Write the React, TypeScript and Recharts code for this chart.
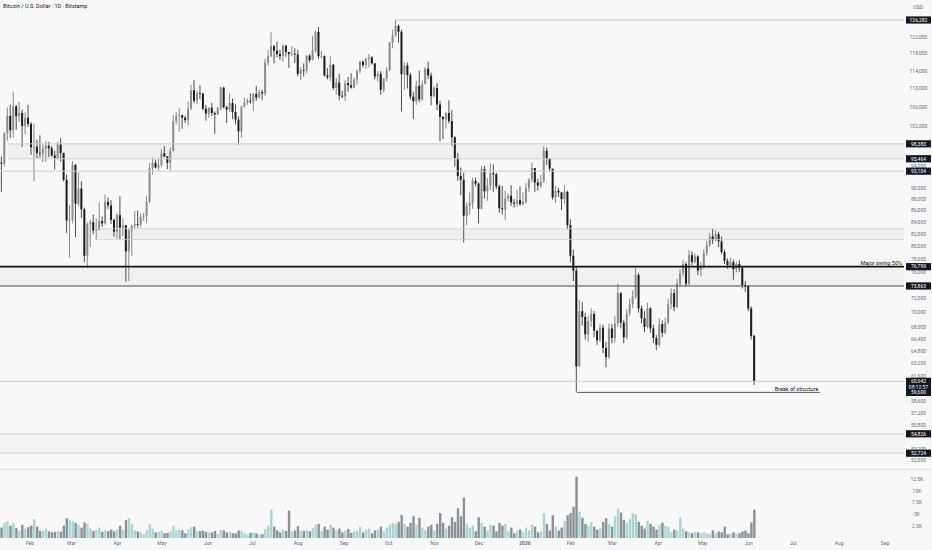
import {
  Bar,
  Cell,
  ComposedChart,
  ReferenceArea,
  ReferenceLine,
  XAxis,
  YAxis,
} from "recharts";

const FONT = "Roboto, 'Liberation Sans', sans-serif";
const W = 932;
const AXIS_W = 28;
const PRICE_H = 466;
const VOL_H = 84;
// x positions are days counted from 1 Feb 2025
const DAY_MIN = -20.25;
const DAY_MAX = 589.8;
const FIRST_DAY = -19; // 13 Jan 2025, one candle per two days
const FIRST_OPEN = 94.7;

// [close, high, low] in k USD, volume in k BTC — one two-day candle per row
const jan25 = [[94.5, 95.9, 89.3, 2.2], [100.5, 100.7, 94.0, 3.2], [104.1, 105.9, 99.0, 3.5], [101.1, 106.4, 99.5, 2.6], [106.1, 109.3, 99.6, 3.3], [104.0, 106.4, 101.2, 2.1], [104.7, 107.0, 102.8, 1.5], [102.0, 105.4, 97.8, 2.8], [103.7, 104.8, 100.3, 2.0], [102.4, 106.4, 101.8, 2.3]];
const feb25 = [[97.7, 102.8, 96.2, 2.6], [97.8, 102.5, 91.2, 4.0], [96.6, 99.2, 95.6, 2.4], [96.5, 100.1, 95.7, 1.5], [97.4, 98.3, 94.8, 1.6], [98.0, 98.9, 94.9, 2.0], [97.5, 98.8, 95.8, 1.4], [96.1, 97.9, 95.9, 1.2], [95.5, 97.0, 93.4, 1.3], [98.3, 98.8, 95.3, 1.5], [96.6, 99.5, 94.9, 1.3], [91.5, 96.6, 91.2, 2.6], [84.3, 92.5, 82.2, 4.2], [84.4, 87.0, 78.2, 3.8]];
const mar25 = [[94.3, 95.0, 83.8, 3.6], [87.2, 94.4, 81.5, 3.2], [89.9, 92.8, 86.8, 2.8], [86.2, 91.2, 84.7, 2.2], [78.5, 86.5, 77.5, 3.3], [83.7, 84.0, 76.6, 3.0], [84.0, 84.4, 79.9, 2.0], [82.6, 85.3, 82.0, 1.5], [82.7, 84.7, 81.1, 1.7], [84.2, 87.4, 82.6, 2.2], [83.8, 85.0, 83.2, 1.3], [87.5, 88.8, 83.6, 1.6], [86.9, 88.3, 86.3, 1.5], [84.4, 87.8, 83.7, 1.8], [82.4, 84.6, 81.6, 1.4]];
const apr25 = [[85.2, 85.5, 81.3, 1.8], [83.1, 88.5, 81.2, 2.6], [83.5, 84.7, 81.7, 1.8], [79.2, 83.5, 74.5, 3.8], [82.6, 83.0, 74.6, 4.2], [83.4, 83.6, 78.5, 3.0], [83.7, 85.9, 82.9, 1.6], [83.6, 86.0, 83.1, 1.4], [84.9, 85.5, 83.1, 1.2], [85.1, 85.6, 84.2, 0.8], [87.5, 88.5, 83.9, 1.6], [93.7, 94.7, 87.3, 3.0], [94.7, 95.7, 92.5, 2.0], [93.8, 95.3, 93.6, 1.2], [94.3, 95.5, 93.2, 1.3]];
const may25 = [[96.5, 97.4, 93.9, 1.6], [95.9, 97.9, 95.8, 1.0], [94.7, 96.0, 93.5, 1.1], [97.0, 97.7, 93.4, 1.4], [103.0, 104.3, 96.9, 2.6], [104.1, 104.9, 102.3, 1.6], [104.2, 105.8, 100.8, 1.8], [103.7, 104.4, 101.4, 1.6], [103.2, 104.1, 102.6, 1.0], [105.6, 107.1, 102.1, 1.8], [109.6, 110.8, 105.3, 2.3], [107.3, 111.9, 106.8, 2.4], [109.0, 109.5, 106.6, 1.4], [108.9, 110.7, 107.6, 1.5], [105.6, 108.9, 105.3, 1.6], [104.6, 106.4, 103.1, 1.3]];
const jun25 = [[105.8, 105.9, 103.7, 1.2], [104.7, 106.8, 104.1, 1.2], [104.4, 105.0, 100.4, 1.5], [105.7, 106.0, 104.3, 0.9], [110.2, 110.4, 105.3, 1.7], [105.9, 110.4, 105.7, 1.6], [105.4, 106.2, 102.6, 1.2], [106.8, 108.9, 104.9, 1.3], [104.9, 107.8, 103.4, 1.0], [103.3, 106.5, 102.3, 1.0], [100.9, 104.0, 98.2, 1.6], [106.0, 106.3, 99.6, 1.5], [106.9, 108.0, 105.9, 1.0], [107.3, 107.8, 106.4, 0.7], [107.1, 108.9, 106.7, 1.1]];
const jul25 = [[108.8, 109.0, 105.1, 1.2], [108.0, 110.6, 107.3, 1.0], [109.2, 109.7, 107.8, 0.7], [108.9, 109.7, 107.5, 0.8], [115.9, 116.8, 108.3, 1.9], [117.4, 118.9, 115.2, 2.6], [119.8, 123.2, 117.2, 6.0], [118.7, 120.1, 115.7, 2.4], [117.9, 120.9, 117.1, 1.6], [117.4, 118.9, 116.5, 1.2], [119.9, 120.2, 116.1, 1.8], [118.4, 120.1, 117.3, 1.5], [117.9, 118.4, 114.7, 5.8], [118.0, 119.8, 117.4, 1.4], [117.8, 119.3, 115.8, 1.6]];
const aug25 = [[113.3, 118.9, 112.7, 2.5], [114.2, 114.8, 111.9, 1.6], [114.1, 115.7, 112.7, 1.5], [117.5, 117.6, 113.4, 1.7], [116.5, 117.9, 115.9, 1.4], [118.7, 122.3, 116.4, 2.2], [123.3, 123.6, 118.2, 2.8], [117.4, 124.5, 116.8, 3.0], [117.4, 118.6, 116.9, 1.5], [112.9, 117.6, 112.7, 2.4], [112.5, 114.6, 112.0, 1.8], [115.4, 117.4, 111.7, 2.8], [110.1, 115.6, 109.7, 2.2], [111.3, 112.4, 108.7, 1.6], [108.4, 113.3, 107.4, 2.0], [108.3, 109.5, 107.9, 1.2]];
const sep25 = [[111.2, 111.8, 107.3, 1.6], [110.7, 112.6, 109.3, 1.9], [110.2, 113.4, 110.0, 1.1], [112.0, 112.4, 110.0, 1.4], [113.9, 114.3, 110.9, 1.6], [116.1, 116.3, 113.4, 2.4], [115.3, 116.4, 114.8, 1.2], [116.8, 117.0, 114.4, 1.8], [117.1, 117.9, 114.8, 2.0], [115.7, 117.4, 115.4, 1.0], [112.7, 115.8, 112.0, 1.6], [113.3, 113.9, 111.6, 1.8], [109.7, 113.9, 108.6, 2.4], [112.2, 112.3, 109.1, 1.4], [114.1, 114.8, 111.6, 2.2]];
const oct25 = [[120.6, 120.9, 113.9, 2.8], [122.4, 123.9, 119.3, 3.2], [124.8, 126.282, 122.1, 3.0], [123.3, 125.1, 120.6, 3.4], [113.2, 123.8, 105.0, 4.9], [115.2, 115.9, 109.7, 3.0], [113.0, 115.9, 110.0, 2.4], [108.2, 113.5, 107.6, 3.2], [107.2, 109.3, 103.5, 4.6], [110.6, 111.7, 106.4, 2.8], [107.6, 114.0, 107.0, 4.3], [111.0, 111.8, 107.3, 2.2], [114.5, 114.8, 110.9, 1.6], [112.9, 116.1, 112.1, 2.4], [108.3, 113.6, 106.3, 2.8]];
const nov25 = [[110.1, 110.6, 108.1, 1.6], [106.5, 111.2, 105.3, 3.0], [103.9, 107.3, 98.9, 5.3], [103.4, 104.0, 99.3, 3.2], [104.7, 104.8, 101.4, 2.0], [103.0, 107.4, 102.5, 2.6], [99.7, 105.3, 98.0, 4.4], [95.6, 99.9, 94.0, 3.4], [92.2, 96.6, 91.3, 6.3], [91.5, 93.8, 88.7, 4.6], [85.1, 92.8, 80.6, 8.6], [86.8, 87.4, 83.5, 3.0], [87.3, 89.2, 85.3, 2.2], [91.3, 91.9, 86.3, 2.6], [90.8, 91.9, 90.3, 1.4]];
const dec25 = [[86.3, 91.0, 83.8, 4.4], [93.5, 94.1, 86.2, 3.2], [89.4, 94.1, 88.1, 2.4], [90.4, 91.8, 87.7, 1.6], [92.7, 94.6, 89.6, 2.8], [92.5, 94.4, 89.3, 2.6], [90.3, 92.8, 89.8, 1.4], [86.4, 90.6, 85.6, 3.2], [86.2, 90.4, 85.3, 2.6], [88.1, 89.5, 84.4, 3.0], [88.6, 89.0, 87.6, 1.4], [87.4, 90.5, 86.8, 2.2], [87.2, 88.0, 86.5, 1.0], [87.8, 89.7, 86.7, 1.6], [87.1, 90.3, 86.8, 1.8], [87.5, 89.2, 86.9, 1.2]];
const jan26 = [[90.0, 90.9, 87.2, 2.2], [91.5, 91.8, 89.3, 1.6], [93.7, 94.8, 91.0, 2.8], [91.0, 93.7, 89.3, 2.4], [90.4, 91.7, 89.5, 1.2], [91.2, 92.4, 90.0, 1.4], [97.0, 97.9, 90.9, 5.3], [95.5, 97.6, 94.3, 3.0], [93.6, 95.5, 93.0, 1.6], [88.3, 93.4, 87.9, 4.8], [89.5, 90.4, 87.3, 2.4], [89.2, 90.0, 88.4, 1.6], [88.0, 89.3, 86.1, 2.2], [89.3, 90.5, 87.2, 3.6], [83.5, 89.5, 82.8, 4.8]];
const feb26 = [[78.5, 84.5, 77.5, 5.3], [76.2, 79.5, 74.6, 6.6], [62.8, 76.8, 59.7, 13.0], [70.2, 71.8, 62.8, 5.6], [69.4, 71.5, 68.2, 4.3], [67.0, 70.0, 66.3, 3.0], [68.8, 69.5, 66.0, 2.6], [69.8, 70.6, 68.0, 3.4], [67.5, 70.2, 66.6, 2.4], [66.2, 67.5, 65.6, 1.8], [67.9, 68.4, 65.9, 2.0], [65.2, 68.3, 64.5, 3.4], [64.0, 66.0, 62.7, 4.2], [67.8, 68.5, 63.8, 3.0]];
const mar26 = [[66.5, 68.4, 65.8, 2.4], [68.5, 69.5, 65.9, 4.6], [72.8, 74.2, 68.0, 6.2], [68.6, 73.0, 67.8, 5.4], [66.6, 69.0, 65.8, 3.8], [69.9, 70.5, 66.3, 3.2], [71.2, 72.0, 69.5, 4.0], [72.3, 73.2, 70.6, 5.3], [75.5, 76.6, 72.0, 5.0], [70.6, 75.8, 70.0, 3.4], [69.2, 71.0, 68.5, 2.6], [68.0, 70.2, 67.3, 2.0], [70.6, 71.4, 67.8, 3.6], [67.8, 70.8, 67.2, 3.0], [66.5, 68.3, 65.8, 2.4], [65.6, 66.9, 64.9, 1.8]];
const apr26 = [[68.4, 69.2, 65.3, 2.8], [67.2, 68.9, 66.6, 3.2], [68.6, 69.3, 67.0, 2.6], [71.2, 72.0, 68.4, 2.4], [72.8, 73.5, 70.5, 1.2], [70.8, 73.4, 70.2, 1.8], [74.2, 74.9, 70.6, 1.6], [75.8, 76.4, 73.8, 4.3], [77.2, 77.9, 75.3, 2.0], [74.2, 77.5, 73.8, 1.4], [78.6, 79.4, 74.0, 1.2], [77.5, 79.2, 77.0, 1.0], [78.4, 78.9, 77.3, 1.4], [76.2, 78.6, 75.5, 1.2], [76.9, 77.5, 75.3, 1.0]];
const may26 = [[78.9, 79.5, 76.5, 1.2], [80.2, 80.9, 78.5, 1.0], [81.6, 82.2, 79.9, 0.8], [81.0, 82.9, 80.4, 1.6], [82.0, 82.6, 80.8, 1.0], [80.8, 82.4, 79.9, 1.4], [79.1, 81.6, 78.8, 1.2], [77.7, 79.5, 77.2, 2.4], [77.0, 78.1, 76.5, 0.8], [77.5, 78.2, 76.7, 1.0], [76.4, 77.9, 74.8, 1.2], [77.2, 77.6, 75.9, 0.9], [76.6, 77.8, 76.0, 1.0], [74.0, 76.8, 73.5, 1.4], [73.8, 74.6, 73.0, 1.6]];
const jun26 = [[70.6, 74.0, 70.2, 1.0], [66.8, 70.9, 66.3, 3.3], [60.942, 66.9, 60.5, 6.0]];

const months = [jan25, feb25, mar25, apr25, may25, jun25, jul25, aug25, sep25, oct25, nov25, dec25, jan26, feb26, mar26, apr26, may26, jun26];

const monthTicks = [0, 28, 59, 89, 120, 150, 181, 212, 242, 273, 303, 334, 365, 393, 424, 454, 485, 515, 546, 577];
const monthLabels = ["Feb", "Mar", "Apr", "May", "Jun", "Jul", "Aug", "Sep", "Oct", "Nov", "Dec", "2026", "Feb", "Mar", "Apr", "May", "Jun", "Jul", "Aug", "Sep"];

const priceTicks = [122000, 118000, 114000, 110000, 106000, 102000, 94000, 90000, 88000, 86000, 84000, 82000, 80000, 78000, 76000, 72000, 70000, 68000, 66400, 64800, 63200, 61600, 58600, 57200, 55800, 53200, 52000];
const priceMarks = [126282, 98383, 95464, 93104, 76799, 73863, 60942, 59600, 54826, 52724];
const volTicks = [2500, 5000, 7500, 10000, 12500];
const volLabels = ["2.5K", "5K", "7.5K", "10K", "12.5K"];

type Candle = { d: number; o: number; h: number; l: number; c: number; range: [number, number]; v: number; up: boolean };

const candles: Candle[] = [];
{
  let prev = FIRST_OPEN;
  let d = FIRST_DAY;
  for (const m of months) {
    for (const [c, h, l, v] of m) {
      candles.push({ d, o: prev * 1000, c: c * 1000, h: h * 1000, l: l * 1000, range: [l * 1000, h * 1000], v: v * 1000, up: c >= prev });
      prev = c;
      d += 2;
    }
  }
}

const INK = "#131722";
const LEVEL = "#cfcfcf";
const ZONE = "#000";

function CandleShape(props: any) {
  const { x, y, width, height, payload } = props;
  if (!payload) return null;
  const { o, c, h, l, up } = payload as Candle;
  const yHigh = height >= 0 ? y : y + height;
  const yLow = yHigh + Math.abs(height);
  const span = Math.log(h) - Math.log(l);
  const at = (v: number) => (span > 0 ? yHigh + ((yLow - yHigh) * (Math.log(h) - Math.log(v))) / span : yHigh);
  const top = at(Math.max(o, c));
  const bottom = at(Math.min(o, c));
  const cx = x + width / 2;
  return (
    <g>
      <line x1={cx} x2={cx} y1={yHigh} y2={yLow} stroke={up ? "#7a7a7a" : "#3a3a3a"} strokeWidth={0.9} />
      <rect x={x} y={top} width={width} height={Math.max(bottom - top, 0.8)} fill={up ? "#8c8c8c" : "#1c1c1c"} />
    </g>
  );
}

function PriceTick(props: any) {
  const { x, y, payload } = props;
  const v = payload.value as number;
  const cx = x + 14.5;
  const txt = v.toLocaleString("en-US");
  if (v === 60942) {
    return (
      <g>
        <rect x={x + 2} y={y - 3.6} width={25} height={13.4} fill={INK} />
        <text x={cx} y={y + 1.8} textAnchor="middle" fontSize={5} fill="#fff" fontFamily={FONT}>{txt}</text>
        <text x={cx} y={y + 7.6} textAnchor="middle" fontSize={5} fill="#fff" fontFamily={FONT}>08:12:57</text>
      </g>
    );
  }
  if (priceMarks.includes(v)) {
    return (
      <g>
        <rect x={x + 2} y={y - 3.6} width={25} height={7.2} fill={INK} />
        <text x={cx} y={y + 1.8} textAnchor="middle" fontSize={5} fill="#fff" fontFamily={FONT}>{txt}</text>
      </g>
    );
  }
  return (
    <text x={cx} y={y + 1.8} textAnchor="middle" fontSize={5} fill="#6a6d78" fontFamily={FONT}>{txt}</text>
  );
}

function VolTick(props: any) {
  const { x, y, payload } = props;
  const i = volTicks.indexOf(payload.value);
  return (
    <text x={x + 13} y={y + 1.8} textAnchor="middle" fontSize={5} fill="#6a6d78" fontFamily={FONT}>{volLabels[i]}</text>
  );
}

function MonthTick(props: any) {
  const { x, y, payload } = props;
  const label = monthLabels[monthTicks.indexOf(payload.value)];
  return (
    <text x={x} y={y + 7} textAnchor="middle" fontSize={5} fill="#6a6d78" fontWeight={label === "2026" ? 700 : 400} fontFamily={FONT}>{label}</text>
  );
}

const level = (price: number, from = DAY_MIN, to = DAY_MAX) => [{ x: from, y: price }, { x: to, y: price }];

export default function App() {
  return (
    <div style={{ position: "relative", width: W, height: 550, background: "#f8f8f8", fontFamily: FONT, overflow: "hidden" }}>
      <style>{"body{margin:0;background:#f8f8f8}"}</style>
      <div style={{ position: "absolute", left: 3, top: 3, fontSize: 5.5, color: INK, whiteSpace: "nowrap", zIndex: 2 }}>
        Bitcoin / U.S. Dollar · 1D · Bitstamp
      </div>
      <div style={{ position: "absolute", left: 913, top: 4, fontSize: 5.5, color: "#6a6d78", zIndex: 2 }}>USD</div>

      <div style={{ position: "absolute", left: 0, top: 0 }}>
        <ComposedChart width={W} height={PRICE_H} data={candles} margin={{ top: 0, right: 0, bottom: 0, left: 0 }}>
          <XAxis type="number" dataKey="d" domain={[DAY_MIN, DAY_MAX]} allowDataOverflow hide />
          <YAxis
            orientation="right"
            scale="log"
            domain={[51380, 131480]}
            allowDataOverflow
            width={AXIS_W}
            ticks={[...priceTicks, ...priceMarks]}
            interval={0}
            tick={PriceTick}
            tickSize={0}
            tickMargin={0}
            axisLine={false}
            tickLine={false}
          />

          <ReferenceArea x1={-15} x2={DAY_MAX} y1={95464} y2={98383} fill={ZONE} fillOpacity={0.035} stroke="none" />
          <ReferenceArea x1={45} x2={DAY_MAX} y1={81100} y2={82900} fill={ZONE} fillOpacity={0.035} stroke="none" />
          <ReferenceArea x1={DAY_MIN} x2={DAY_MAX} y1={73863} y2={76799} fill={ZONE} fillOpacity={0.03} stroke="none" />
          <ReferenceArea x1={DAY_MIN} x2={DAY_MAX} y1={52724} y2={54826} fill={ZONE} fillOpacity={0.025} stroke="none" />

          <ReferenceLine segment={level(126282, 247)} stroke={LEVEL} strokeWidth={1} />
          <ReferenceLine segment={level(98383, -15)} stroke={LEVEL} strokeWidth={1} />
          <ReferenceLine segment={level(95464, -15)} stroke={LEVEL} strokeWidth={1} />
          <ReferenceLine segment={level(93104)} stroke={LEVEL} strokeWidth={1} />
          <ReferenceLine segment={level(82900, 45)} stroke={LEVEL} strokeWidth={0.8} />
          <ReferenceLine segment={level(81100, 45)} stroke={LEVEL} strokeWidth={0.8} />
          <ReferenceLine segment={level(73863)} stroke="#4a4a4a" strokeWidth={1} />
          <ReferenceLine segment={level(60942)} stroke={LEVEL} strokeWidth={1} />
          <ReferenceLine segment={level(54826)} stroke={LEVEL} strokeWidth={1} />
          <ReferenceLine segment={level(52724)} stroke={LEVEL} strokeWidth={1} />

          <Bar dataKey="range" barSize={2} shape={CandleShape} isAnimationActive={false} />

          <ReferenceLine
            segment={level(76799)}
            stroke="#111"
            strokeWidth={1.6}
            label={{ value: "Major swing 50%", position: "insideBottomRight", offset: 2, fontSize: 5.5, fill: INK, fontFamily: FONT }}
          />
          <ReferenceLine
            segment={level(59600, 369, 533)}
            stroke="#333"
            strokeWidth={0.8}
            label={{ value: "Break of structure", position: "insideBottomRight", offset: 1.5, fontSize: 5.5, fill: INK, fontFamily: FONT }}
          />
        </ComposedChart>
      </div>

      <div style={{ position: "absolute", left: 0, top: 469, width: W, height: 1, background: "#e2e2e2" }} />

      <div style={{ position: "absolute", left: 0, top: PRICE_H }}>
        <ComposedChart width={W} height={VOL_H} data={candles} margin={{ top: 0, right: 0, bottom: 0, left: 0 }}>
          <XAxis
            type="number"
            dataKey="d"
            domain={[DAY_MIN, DAY_MAX]}
            allowDataOverflow
            ticks={monthTicks}
            interval={0}
            tick={MonthTick}
            tickSize={0}
            tickMargin={0}
            tickLine={false}
            axisLine={false}
            height={12}
          />
          <YAxis
            orientation="right"
            domain={[0, 15250]}
            allowDataOverflow
            width={AXIS_W}
            ticks={volTicks}
            interval={0}
            tick={VolTick}
            tickSize={0}
            tickMargin={0}
            axisLine={false}
            tickLine={false}
          />
          <Bar dataKey="v" barSize={2.4} isAnimationActive={false}>
            {candles.map((c, i) => (
              <Cell key={i} fill={c.up ? "#a9d6d5" : "#8b9198"} />
            ))}
          </Bar>
        </ComposedChart>
      </div>
    </div>
  );
}
